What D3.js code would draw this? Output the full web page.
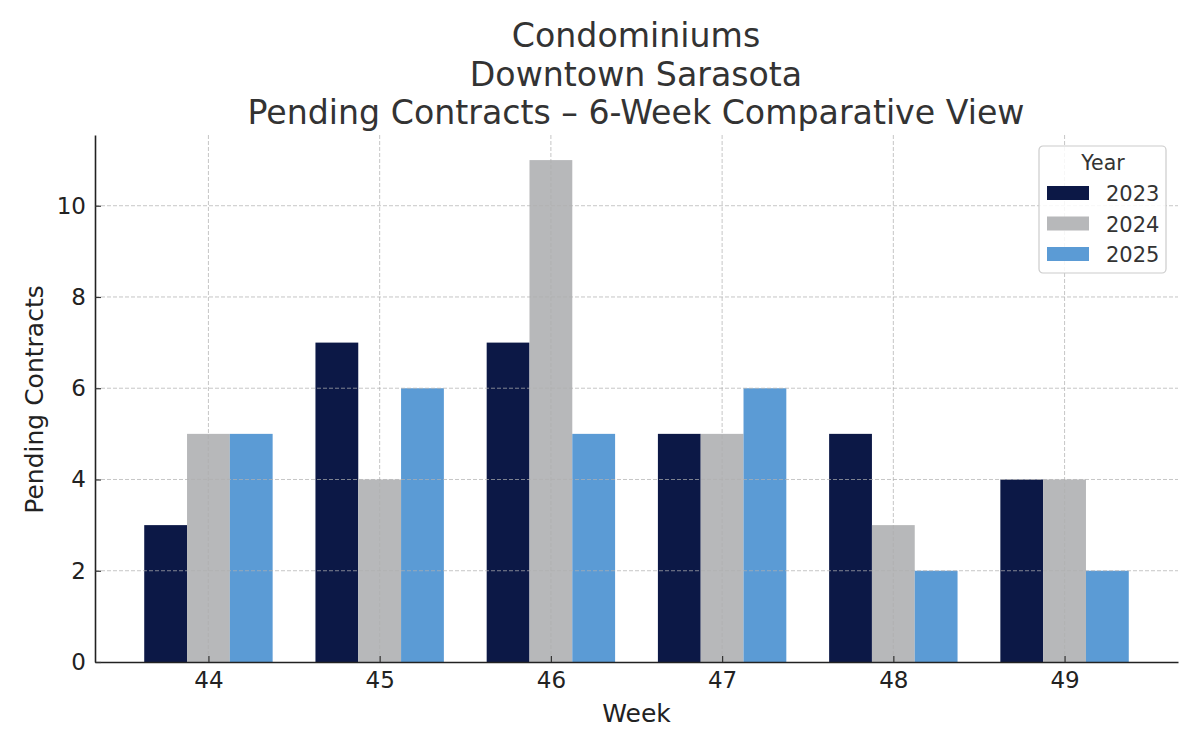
<!DOCTYPE html>
<html>
<head>
<meta charset="utf-8">
<script src="https://cdn.jsdelivr.net/npm/d3@7"></script>
<style>
  body { margin: 0; background: #fff; }
  text { font-family: "DejaVu Sans", sans-serif; }
</style>
</head>
<body>
<div id="chart"></div>
<script>
var weeks = ["44", "45", "46", "47", "48", "49"];
var years = ["2023", "2024", "2025"];
var v2023 = [3, 7, 7, 5, 5, 4];
var v2024 = [5, 4, 11, 5, 3, 4];
var v2025 = [5, 6, 5, 6, 2, 2];
var yTicks = [0, 2, 4, 6, 8, 10];
var colors = ["#0c1846", "#b7b8ba", "#5b9bd5"];
var titleLines = ["Condominiums", "Downtown Sarasota", "Pending Contracts \u2013 6-Week Comparative View"];

var series = [v2023, v2024, v2025];

var margin = {top: 135, right: 22, bottom: 88, left: 95},
    width = 1200 - margin.left - margin.right,
    height = 750 - margin.top - margin.bottom;

var svg = d3.select("#chart").append("svg")
    .attr("width", 1200)
    .attr("height", 750);

var g = svg.append("g")
    .attr("transform", "translate(" + margin.left + "," + margin.top + ")");

// linear x over category index, matplotlib-like margins
var x = d3.scaleLinear()
    .domain([-0.6625, 5.6625])
    .range([0, width]);

var y = d3.scaleLinear()
    .domain([0, 11.55])
    .range([height, 0]);

var bw = 0.25;

// bars
series.forEach(function(vals, si) {
    g.selectAll(".bar-" + si)
        .data(vals)
        .enter().append("rect")
        .attr("x", function(d, i) { return x(i + (si - 1) * bw - bw / 2); })
        .attr("y", function(d) { return y(d); })
        .attr("width", x(bw) - x(0))
        .attr("height", function(d) { return height - y(d); })
        .attr("fill", colors[si]);
});

// grid on top, light dashed
var grid = g.append("g").attr("class", "grid");
grid.selectAll(".hg")
    .data(yTicks.slice(1))
    .enter().append("line")
    .attr("x1", 0).attr("x2", width)
    .attr("y1", function(d) { return y(d); })
    .attr("y2", function(d) { return y(d); });
grid.selectAll(".vg")
    .data(weeks)
    .enter().append("line")
    .attr("x1", function(d, i) { return x(i); })
    .attr("x2", function(d, i) { return x(i); })
    .attr("y1", 0).attr("y2", height);
grid.selectAll("line")
    .attr("stroke", "#b0b0b0")
    .attr("stroke-opacity", 0.8)
    .attr("stroke-width", 0.9)
    .attr("stroke-dasharray", "4,2");

// axes
var xAxis = g.append("g")
    .attr("transform", "translate(0," + height + ")")
    .call(d3.axisBottom(x)
        .tickValues(d3.range(weeks.length))
        .tickFormat(function(d) { return weeks[d]; })
        .tickSizeInner(-6).tickSizeOuter(0).tickPadding(10));

var yAxis = g.append("g")
    .call(d3.axisLeft(y)
        .tickValues(yTicks)
        .tickSizeInner(-6).tickSizeOuter(0).tickPadding(9));

[xAxis, yAxis].forEach(function(a) {
    a.select(".domain").attr("stroke", "#222").attr("stroke-width", 1.6);
    a.selectAll(".tick line").attr("stroke", "#333").attr("stroke-width", 1.2);
    a.selectAll(".tick text")
        .attr("fill", "#222")
        .style("font-size", "23px")
        .style("font-family", "DejaVu Sans, sans-serif");
});

// axis labels
svg.append("text")
    .attr("x", margin.left + width / 2)
    .attr("y", 722)
    .attr("text-anchor", "middle")
    .attr("fill", "#222")
    .style("font-size", "25px")
    .text("Week");

svg.append("text")
    .attr("transform", "translate(43," + (margin.top + height / 2 + 1) + ") rotate(-90)")
    .attr("text-anchor", "middle")
    .attr("fill", "#222")
    .style("font-size", "25px")
    .text("Pending Contracts");

// title
svg.selectAll(".title")
    .data(titleLines)
    .enter().append("text")
    .attr("class", "title")
    .attr("x", 636)
    .attr("y", function(d, i) { return 47 + i * 38.5; })
    .attr("text-anchor", "middle")
    .attr("fill", "#333")
    .style("font-size", "33.2px")
    .text(function(d) { return d; });

// legend
var lg = svg.append("g").attr("transform", "translate(1039,146)");
lg.append("rect")
    .attr("width", 127).attr("height", 127)
    .attr("rx", 4)
    .attr("fill", "#fff").attr("fill-opacity", 0.85)
    .attr("stroke", "#cccccc").attr("stroke-width", 1.2);
lg.append("text")
    .attr("x", 64).attr("y", 24)
    .attr("text-anchor", "middle")
    .attr("fill", "#333")
    .style("font-size", "20.5px")
    .text("Year");
var items = lg.selectAll(".item")
    .data(years)
    .enter().append("g")
    .attr("transform", function(d, i) { return "translate(0," + (47 + i * 30.5) + ")"; });
items.append("rect")
    .attr("x", 8).attr("y", -7)
    .attr("width", 42).attr("height", 14)
    .attr("fill", function(d, i) { return colors[i]; });
items.append("text")
    .attr("x", 67).attr("y", 8)
    .attr("fill", "#333")
    .style("font-size", "21px")
    .text(function(d) { return d; });
</script>
</body>
</html>
